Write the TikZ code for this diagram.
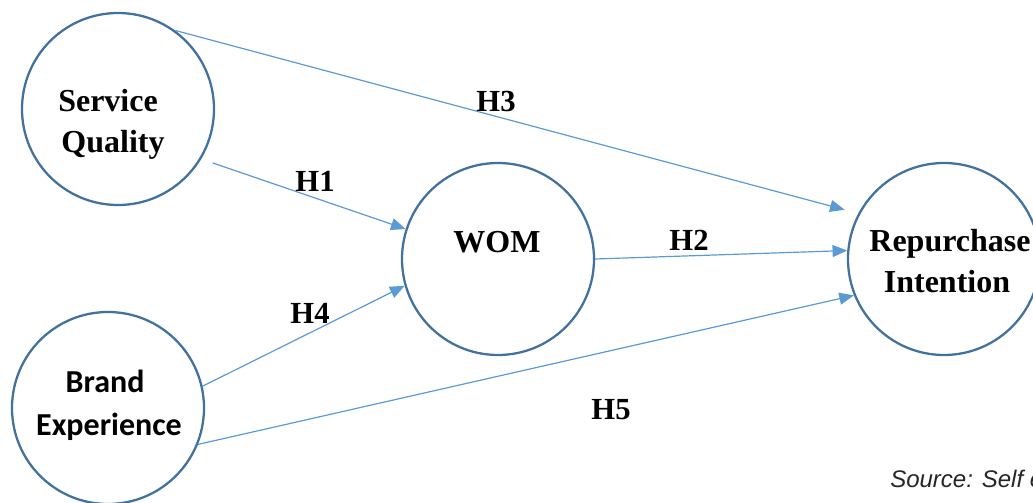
\documentclass[tikz,border=0pt]{standalone}
\usepackage{fontspec}
\setmainfont{Liberation Serif}
\newfontfamily\calib{Carlito}
\newfontfamily\srcfont{Liberation Sans}
\usetikzlibrary{arrows.meta}
\definecolor{circblue}{HTML}{41719C}
\definecolor{arrblue}{HTML}{5B9BD5}
\begin{document}
\begin{tikzpicture}[x=0.75pt,y=-0.75pt,
 construct/.style={circle,draw=circblue,line width=1.7pt,minimum size=144pt,inner sep=0pt},
 lbl/.style={anchor=base,font=\fontsize{24}{28}\selectfont\bfseries,inner sep=0pt},
 blbl/.style={anchor=base,font=\fontsize{24}{28}\selectfont\calib\bfseries,inner sep=0pt},
 hyp/.style={anchor=base,font=\fontsize{23}{27}\selectfont\bfseries,inner sep=0pt},
 link/.style={draw=arrblue,line width=0.9pt,-{Triangle[length=11pt,width=9pt]}}]
\useasboundingbox (0,0) rectangle (1033,503);
\fill[white] (0,0) rectangle (1033,503);
% constructs
\node[construct] (sq) at (118,109) {};
\node[construct] (be) at (108,408) {};
\node[construct] (wom) at (498,259) {};
\node[construct] (ri) at (944,259) {};
% texts
\node[lbl] (sqa) at (108,112) {Service};
\node[lbl] (sqb) at (113,152) {Quality};
\node[blbl] (bea) at (105,392) {Brand};
\node[blbl] (beb) at (109,435) {Experience};
\node[lbl] (womt) at (497,252) {WOM};
\node[lbl] (ria) at (950,251) {Repurchase};
\node[lbl] (rib) at (947,292) {Intention};
% arrows
\draw[link,shorten >=10.5pt] (sq.54) -- (ri.152);
\draw[link,shorten <=9pt] (sq.-31) -- (wom.162);
\draw[link] (wom.0) -- (ri.175);
\draw[link] (be.13) -- (wom.-164);
\draw[link] (be.-22) -- (ri.-158);
% hypothesis labels
\node[hyp] (h3) at (496,112) {H3};
\node[hyp] (h1) at (315,191) {H1};
\node[hyp] (h2) at (689,250) {H2};
\node[hyp] (h4) at (310,323) {H4};
\node[hyp] (h5) at (611,419) {H5};
% source
\node[anchor=base west,font=\fontsize{18}{22}\selectfont\srcfont\itshape,text=black!85,inner sep=0pt] (src) at (890,487) {Source: Self e};
\end{tikzpicture}
\end{document}
